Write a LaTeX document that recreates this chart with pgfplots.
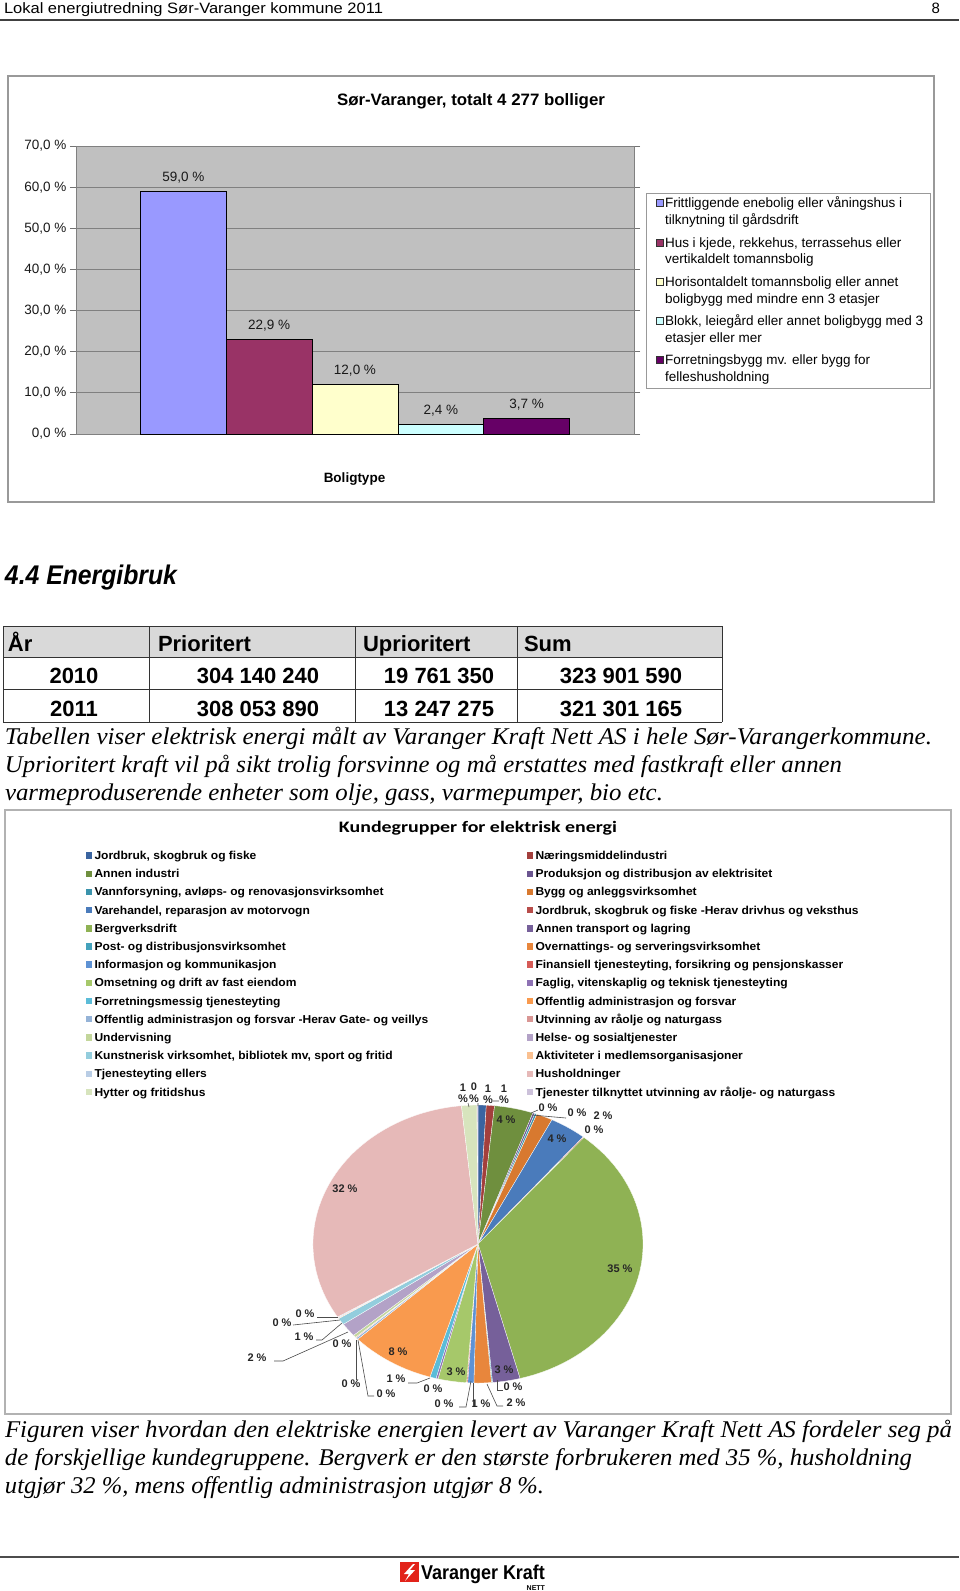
\documentclass[border=0pt]{standalone}
\usepackage{fontspec}
\setmainfont{Liberation Sans}
\newfontfamily\seriffont{Liberation Serif}
\newfontfamily\carlito{Carlito}
\usepackage{graphicx}
\usepackage{pgfplots}
\pgfplotsset{compat=1.18}
\pgfkeys{/pgf/number format/assume math mode=true}
\newcommand\fs[1]{\fontsize{#1}{#1}\selectfont}
\newcommand\fitw[2]{\resizebox{#1}{\height}{#2}}

\definecolor{bA}{HTML}{9999FF}
\definecolor{bB}{HTML}{993366}
\definecolor{bC}{HTML}{FFFFCC}
\definecolor{bD}{HTML}{CCFFFF}
\definecolor{bE}{HTML}{660066}
\definecolor{plotbg}{HTML}{C0C0C0}
\definecolor{p1}{HTML}{3A64A0}\definecolor{p2}{HTML}{A33F3C}\definecolor{p3}{HTML}{6F8F3E}
\definecolor{p4}{HTML}{6B5590}\definecolor{p5}{HTML}{3A93AC}\definecolor{p6}{HTML}{D8792F}
\definecolor{p7}{HTML}{4A7BBB}\definecolor{p8}{HTML}{B84D4A}\definecolor{p9}{HTML}{8FB254}
\definecolor{p10}{HTML}{76609A}\definecolor{p11}{HTML}{44A2BC}\definecolor{p12}{HTML}{E8863C}
\definecolor{p13}{HTML}{5E92D4}\definecolor{p14}{HTML}{D65B57}\definecolor{p15}{HTML}{A6C86A}
\definecolor{p16}{HTML}{8E72B4}\definecolor{p17}{HTML}{5BBCD8}\definecolor{p18}{HTML}{F99A4E}
\definecolor{p19}{HTML}{95B3D7}\definecolor{p20}{HTML}{D99694}\definecolor{p21}{HTML}{C3D69B}
\definecolor{p22}{HTML}{B3A2C7}\definecolor{p23}{HTML}{93CDDD}\definecolor{p24}{HTML}{FAC090}
\definecolor{p25}{HTML}{B9CDE5}\definecolor{p26}{HTML}{E6B9B8}\definecolor{p27}{HTML}{D7E4BD}
\definecolor{p28}{HTML}{CCC1DA}
\definecolor{logored}{HTML}{E2231A}

\newcommand\pleg[4]{%
  \fill[#3] (#1,#2-3.2) rectangle ++(6.4,6.4);
  \node[anchor=base west] at (#1+8.5,#2+4) {\bfseries\fs{11.5}\scalebox{1.047}[1]{#4}};}
\newcommand\bleg[5]{%
  \filldraw[fill=#3, draw=black!80, line width=0.6pt] (656,#2-3.5) rectangle ++(7,7);
  \node[anchor=base west] at (665,#2+4.7) {\fs{13.5}#4};
  \node[anchor=base west] at (665,#2+21) {\fs{13.5}#5};}
\newcommand\plab[3]{\node[anchor=center, text=black!85] at (#1,#2) {\bfseries\fs{11}#3};}

\begin{document}
\begin{tikzpicture}
\useasboundingbox (0,0) rectangle (960pt,-1591pt);
\fill[white] (0,0) rectangle (960pt,-1591pt);

\begin{scope}[x=1pt,y=-1pt, every node/.style={inner sep=0pt, outer sep=0pt}]
% page header
\node[anchor=base west] at (4,13) {\fitw{379pt}{\fs{15}Lokal energiutredning Sør-Varanger kommune 2011}};
\node[anchor=base east] at (940,13) {\fs{15}8};
\draw[black!75, line width=2pt] (0,19.5) -- (959,19.5);

% bar chart frame
\draw[black!40, line width=1.2pt] (8,76) rectangle (934,502);
\node[anchor=base] at (471,105.5) {\fitw{268pt}{\bfseries\fs{16.5}Sør-Varanger, totalt 4 277 bolliger}};
\node[anchor=base] at (354.5,482) {\bfseries\fs{13.5}Boligtype};
% bar chart legend
\draw[black!40, line width=0.8pt, fill=white] (646,193) rectangle (930,388);
\bleg{1}{203}{bA}{Frittliggende enebolig eller våningshus i}{tilknytning til gårdsdrift}
\bleg{2}{242.5}{bB}{Hus i kjede, rekkehus, terrassehus eller}{vertikaldelt tomannsbolig}
\bleg{3}{282}{bC}{Horisontaldelt tomannsbolig eller annet}{boligbygg med mindre enn 3 etasjer}
\bleg{4}{321}{bD}{Blokk, leiegård eller annet boligbygg med 3}{etasjer eller mer}
\bleg{5}{360}{bE}{Forretningsbygg mv. eller bygg for}{felleshusholdning}

% section heading
\node[anchor=base west] at (5,584) {\fitw{172pt}{\bfseries\itshape\fs{27}4.4 Energibruk}};

% table
\fill[black!15] (3,626) rectangle (722,657);
\draw[black!80, line width=1pt] (3,626) -- (722,626) (3,657) -- (722,657) (3,689) -- (722,689) (3,722) -- (722,722);
\draw[black!80, line width=1pt] (3,626) -- (3,722) (149,626) -- (149,722) (355,626) -- (355,722) (517,626) -- (517,722) (722,626) -- (722,722);
\node[anchor=base west] at (8,651) {\bfseries\fs{22}År};
\node[anchor=base west] at (158,651) {\bfseries\fs{22}Prioritert};
\node[anchor=base west] at (363,651) {\bfseries\fs{22}Uprioritert};
\node[anchor=base west] at (524,651) {\bfseries\fs{22}Sum};
\node[anchor=base] at (74,683.5) {\bfseries\fs{22}2010};
\node[anchor=base] at (258,683.5) {\bfseries\fs{22}304 140 240};
\node[anchor=base] at (439,683.5) {\bfseries\fs{22}19 761 350};
\node[anchor=base] at (621,683.5) {\bfseries\fs{22}323 901 590};
\node[anchor=base] at (74,716) {\bfseries\fs{22}2011};
\node[anchor=base] at (258,716) {\bfseries\fs{22}308 053 890};
\node[anchor=base] at (439,716) {\bfseries\fs{22}13 247 275};
\node[anchor=base] at (621,716) {\bfseries\fs{22}321 301 165};

% paragraph 1
\node[anchor=base west] at (5,744) {\fitw{927pt}{\seriffont\itshape\fs{24}Tabellen viser elektrisk energi målt av Varanger Kraft Nett AS i hele Sør-Varangerkommune.}};
\node[anchor=base west] at (5,772) {\fitw{837pt}{\seriffont\itshape\fs{24}Uprioritert kraft vil på sikt trolig forsvinne og må erstattes med fastkraft eller annen}};
\node[anchor=base west] at (5,800) {\fitw{658pt}{\seriffont\itshape\fs{24}varmeproduserende enheter som olje, gass, varmepumper, bio etc.}};

% pie frame
\draw[black!30, line width=1.2pt] (5,810) rectangle (951,1414);
\node[anchor=base] at (478,832) {\fitw{278pt}{\carlito\bfseries\fs{16}Kundegrupper for elektrisk energi}};

% pie legend
\pleg{86}{855.5}{p1}{Jordbruk, skogbruk og fiske}
\pleg{86}{873.7}{p3}{Annen industri}
\pleg{86}{891.9}{p5}{Vannforsyning, avløps- og renovasjonsvirksomhet}
\pleg{86}{910.1}{p7}{Varehandel, reparasjon av motorvogn}
\pleg{86}{928.3}{p9}{Bergverksdrift}
\pleg{86}{946.5}{p11}{Post- og distribusjonsvirksomhet}
\pleg{86}{964.6}{p13}{Informasjon og kommunikasjon}
\pleg{86}{982.8}{p15}{Omsetning og drift av fast eiendom}
\pleg{86}{1001.0}{p17}{Forretningsmessig tjenesteyting}
\pleg{86}{1019.2}{p19}{Offentlig administrasjon og forsvar -Herav Gate- og veillys}
\pleg{86}{1037.4}{p21}{Undervisning}
\pleg{86}{1055.6}{p23}{Kunstnerisk virksomhet, bibliotek mv, sport og fritid}
\pleg{86}{1073.8}{p25}{Tjenesteyting ellers}
\pleg{86}{1092.0}{p27}{Hytter og fritidshus}
\pleg{527}{855.5}{p2}{Næringsmiddelindustri}
\pleg{527}{873.7}{p4}{Produksjon og distribusjon av elektrisitet}
\pleg{527}{891.9}{p6}{Bygg og anleggsvirksomhet}
\pleg{527}{910.1}{p8}{Jordbruk, skogbruk og fiske -Herav drivhus og veksthus}
\pleg{527}{928.3}{p10}{Annen transport og lagring}
\pleg{527}{946.5}{p12}{Overnattings- og serveringsvirksomhet}
\pleg{527}{964.6}{p14}{Finansiell tjenesteyting, forsikring og pensjonskasser}
\pleg{527}{982.8}{p16}{Faglig, vitenskaplig og teknisk tjenesteyting}
\pleg{527}{1001.0}{p18}{Offentlig administrasjon og forsvar}
\pleg{527}{1019.2}{p20}{Utvinning av råolje og naturgass}
\pleg{527}{1037.4}{p22}{Helse- og sosialtjenester}
\pleg{527}{1055.6}{p24}{Aktiviteter i medlemsorganisasjoner}
\pleg{527}{1073.8}{p26}{Husholdninger}
\pleg{527}{1092.0}{p28}{Tjenester tilknyttet utvinning av råolje- og naturgass}

% paragraph 2
\node[anchor=base west] at (5,1437) {\fitw{947pt}{\seriffont\itshape\fs{24}Figuren viser hvordan den elektriske energien levert av Varanger Kraft Nett AS fordeler seg på}};
\node[anchor=base west] at (5,1465) {\fitw{907pt}{\seriffont\itshape\fs{24}de forskjellige kundegruppene. Bergverk er den største forbrukeren med 35 \%, husholdning}};
\node[anchor=base west] at (5,1493) {\fitw{539pt}{\seriffont\itshape\fs{24}utgjør 32 \%, mens offentlig administrasjon utgjør 8 \%.}};

% footer
\draw[black!70, line width=2.5pt] (0,1557) -- (959,1557);
\fill[logored] (400,1562) rectangle (419,1582);
\fill[white] (413,1564) -- (404,1574) -- (409,1574) -- (405,1581) -- (415,1570) -- (410,1570) -- (415,1564) -- cycle;
\node[anchor=base west] at (421,1579) {\fitw{124pt}{\bfseries\fs{20}Varanger Kraft}};
\node[anchor=base east] at (545,1590) {\bfseries\fs{7}NETT};
\end{scope}

% ---------- bar chart ----------
\begin{axis}[
  at={(76pt,-434pt)}, anchor=south west,
  scale only axis, width=558pt, height=288pt,
  xmin=0, xmax=6.5, ymin=0, ymax=70,
  xtick=\empty,
  ytick={0,10,20,30,40,50,60,70},
  yticklabels={{0,0 \%},{10,0 \%},{20,0 \%},{30,0 \%},{40,0 \%},{50,0 \%},{60,0 \%},{70,0 \%}},
  yticklabel style={font=\fs{13.5}, text=black!90},
  tick align=outside, major tick length=6pt,
  tick style={black!55, line width=0.8pt},
  ymajorgrids, grid style={black!50, line width=0.8pt},
  axis line style={black!50, line width=0.8pt},
  axis background/.style={fill=plotbg},
  ybar, bar width=1,
  nodes near coords={\pgfmathprintnumber[fixed,fixed zerofill,precision=1,use comma]{\pgfplotspointmeta}~\%},
  every node near coord/.append style={font=\fs{13.5}, text=black!90, inner sep=0pt, yshift=7.7pt},
  clip=false,
]
\addplot[fill=bA, draw=black, line width=0.8pt, bar shift=0pt] coordinates {(1.25,59.0)};
\addplot[fill=bB, draw=black, line width=0.8pt, bar shift=0pt] coordinates {(2.25,22.9)};
\addplot[fill=bC, draw=black, line width=0.8pt, bar shift=0pt] coordinates {(3.25,12.0)};
\addplot[fill=bD, draw=black, line width=0.8pt, bar shift=0pt] coordinates {(4.25,2.4)};
\addplot[fill=bE, draw=black, line width=0.8pt, bar shift=0pt] coordinates {(5.25,3.7)};
\end{axis}

% ---------- pie chart ----------
\begin{axis}[
  at={(478pt,-1244pt)}, anchor=center,
  scale only axis, width=330pt, height=278pt,
  xmin=-1, xmax=1, ymin=-1, ymax=1,
  hide axis, clip=false,
]
\addplot[draw=none] coordinates {(0,0)};
\pgfplotsextra{
  \xdef\cum{0}
  \foreach \v/\col in {0.8/p1,0.8/p2,3.8/p3,0.2/p4,0.2/p5,1.6/p6,3.6/p7,0.1/p8,34.8/p9,2.7/p10,0.1/p11,1.7/p12,0.6/p13,0.1/p14,2.8/p15,0.2/p16,0.6/p17,8.3/p18,0.2/p19,0.1/p20,0.3/p21,1.6/p22,0.8/p23,0.1/p24,0.1/p25,32.2/p26,1.5/p27,0.1/p28}{
    \pgfmathsetmacro\aS{90-3.6*\cum}
    \pgfmathsetmacro\aE{90-3.6*(\cum+\v)}
    \fill[\col, draw=white, line width=0.3pt] (axis cs:0,0) -- ++(\aS:165pt and 139pt) arc[start angle=\aS, end angle=\aE, x radius=165pt, y radius=139pt] -- cycle;
    \pgfmathsetmacro\nc{\cum+\v}
    \xdef\cum{\nc}
  }
}
\end{axis}

% pie labels and leaders
\begin{scope}[x=1pt,y=-1pt, every node/.style={inner sep=0pt, outer sep=0pt}]
\draw[black!70, line width=0.6pt] (532,1115) -- (566,1118);
\draw[black!70, line width=0.6pt] (531,1113) -- (538,1110);
\draw[black!70, line width=0.6pt] (497,1380) -- (497,1390) -- (503,1390);
\draw[black!70, line width=0.6pt] (487,1384) -- (497,1406) -- (503,1406);
\draw[black!70, line width=0.6pt] (473,1383) -- (473,1406);
\draw[black!70, line width=0.6pt] (471,1381) -- (466,1407) -- (459,1407);
\draw[black!70, line width=0.6pt] (430,1378) -- (417,1383) -- (408,1383);
\draw[black!70, line width=0.6pt] (358,1340) -- (368,1396) -- (374,1396);
\draw[black!70, line width=0.6pt] (356,1340) -- (356,1380);
\draw[black!70, line width=0.6pt] (348,1332) -- (283,1361) -- (274,1361);
\draw[black!70, line width=0.6pt] (342,1323) -- (322,1340) -- (316,1340);
\draw[black!70, line width=0.6pt] (340,1320) -- (293,1325);
\draw[black!70, line width=0.6pt] (338,1317) -- (317,1317);
\draw[black!70, line width=0.6pt] (468,1103) -- (469,1107) (478,1103) -- (478,1106) (493,1101) -- (499,1101);
\plab{463}{1088}{1}\plab{463}{1099}{\%}
\plab{474}{1087}{0}\plab{474}{1099}{\%}
\plab{488}{1089}{1}\plab{488}{1100}{\%}
\plab{504}{1089}{1}\plab{504}{1100}{\%}
\plab{506}{1120}{4 \%}
\plab{548}{1108}{0 \%}
\plab{577}{1113}{0 \%}
\plab{603}{1116}{2 \%}
\plab{594}{1130}{0 \%}
\plab{557}{1139}{4 \%}
\plab{620}{1269}{35 \%}
\plab{345}{1189}{32 \%}
\plab{504}{1370}{3 \%}
\plab{513}{1387}{0 \%}
\plab{516}{1403}{2 \%}
\plab{481}{1404}{1 \%}
\plab{444}{1404}{0 \%}
\plab{456}{1372}{3 \%}
\plab{433}{1389}{0 \%}
\plab{396}{1379}{1 \%}
\plab{398}{1352}{8 \%}
\plab{386}{1394}{0 \%}
\plab{351}{1384}{0 \%}
\plab{342}{1344}{0 \%}
\plab{257}{1358}{2 \%}
\plab{304}{1337}{1 \%}
\plab{282}{1323}{0 \%}
\plab{305}{1314}{0 \%}
\end{scope}
\end{tikzpicture}
\end{document}
